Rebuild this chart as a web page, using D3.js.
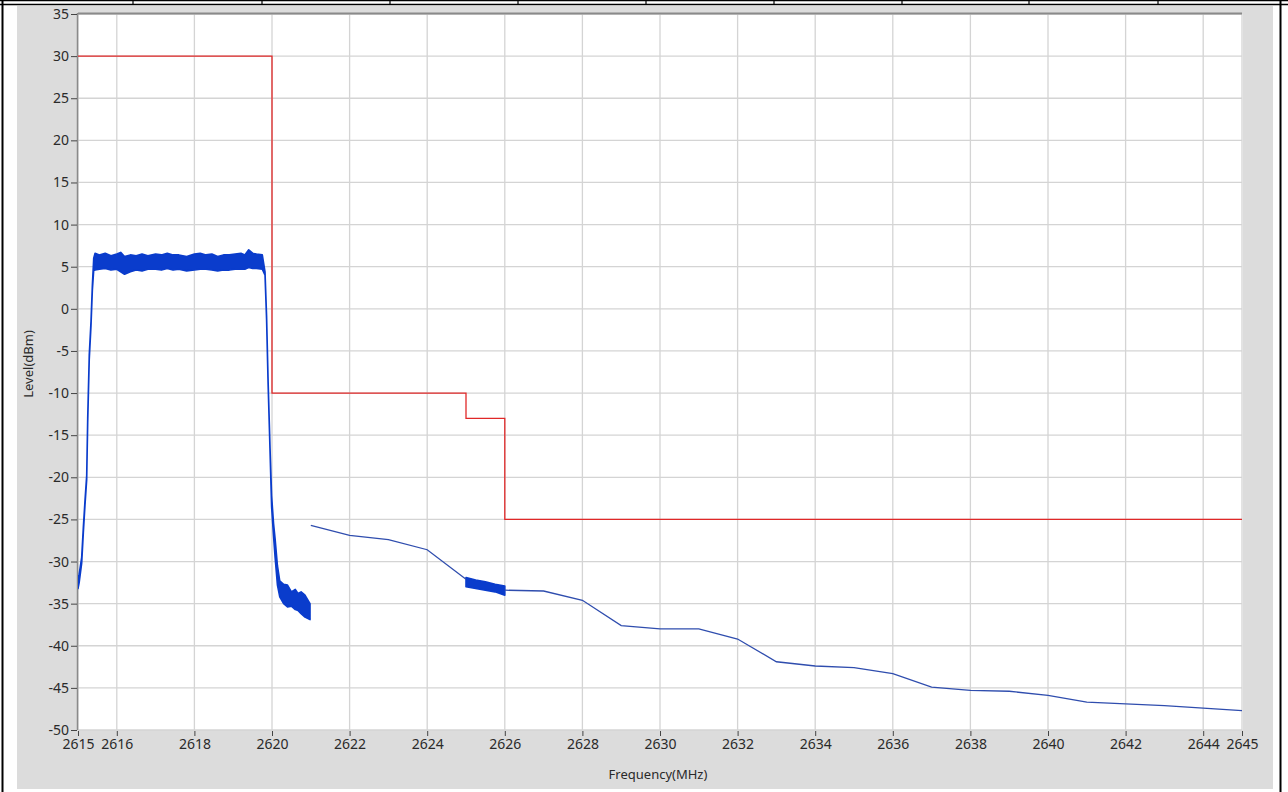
<!DOCTYPE html>
<html>
<head>
<meta charset="utf-8">
<script src="https://cdn.jsdelivr.net/npm/d3@7"></script>
<style>
  html, body { margin: 0; padding: 0; background: #ffffff; }
  svg { display: block; }
  .tick text { font-family: "Noto Sans", "DejaVu Sans", sans-serif; font-size: 14px; fill: #2a2a2a; }
</style>
</head>
<body>
<svg id="chart" width="1288" height="792"></svg>
<script>
// ---------- data ----------
const xTickValues = [2615, 2616, 2618, 2620, 2622, 2624, 2626, 2628, 2630, 2632, 2634, 2636, 2638, 2640, 2642, 2644, 2645];
const yTickValues = [-50, -45, -40, -35, -30, -25, -20, -15, -10, -5, 0, 5, 10, 15, 20, 25, 30, 35];

// limit mask (red)
const limitFreq  = [2615, 2620, 2620, 2625, 2625, 2626, 2626, 2645];
const limitLevel = [30, 30, -10, -10, -13, -13, -25, -25];

const band1Freq  = [2615.00, 2615.03, 2615.095, 2615.137, 2615.18, 2615.224, 2615.25, 2615.29, 2615.335, 2615.37, 2615.405, 2615.44,
                    2615.55, 2615.7, 2615.85, 2616.0, 2616.1, 2616.2, 2616.35, 2616.5, 2616.65, 2616.8, 2617.0, 2617.15, 2617.3, 2617.45, 2617.6,
                    2617.8, 2618.0, 2618.15, 2618.3, 2618.45, 2618.6, 2618.75, 2618.9, 2619.05, 2619.2, 2619.3, 2619.4, 2619.5, 2619.6, 2619.75,
                    2619.82, 2619.86, 2619.9, 2619.95, 2619.99, 2620.04, 2620.08, 2620.14, 2620.2, 2620.3, 2620.4, 2620.5, 2620.6, 2620.67, 2620.75, 2620.85, 2620.98];
const band1Upper = [-32.0, -31.5, -29.5, -26.0, -22.8, -19.8, -13.0, -5.5, -1.5, 2.8, 6.0, 6.6,
                    6.4, 6.6, 6.3, 6.5, 6.7, 6.2, 6.4, 6.3, 6.5, 6.3, 6.5, 6.4, 6.6, 6.4, 6.4,
                    6.2, 6.5, 6.6, 6.4, 6.5, 6.2, 6.4, 6.4, 6.5, 6.6, 6.4, 7.0, 6.6, 6.5, 6.4,
                    4.4, -0.8, -8.6, -16.6, -22.2, -25.5, -27.3, -30.5, -32.3, -32.7, -32.8, -33.6, -33.3, -33.8, -33.6, -34.0, -35.0];
const band1Lower = [-33.2, -32.5, -30.2, -26.6, -23.3, -20.3, -13.5, -6.0, -2.0, 2.2, 4.6, 4.6,
                    4.7, 4.8, 4.6, 4.7, 4.4, 4.1, 4.4, 4.6, 4.5, 4.7, 4.7, 4.6, 4.8, 4.6, 4.7,
                    4.5, 4.6, 4.7, 4.7, 4.6, 4.5, 4.6, 4.6, 4.7, 4.7, 4.7, 4.9, 4.8, 4.8, 4.7,
                    4.0, -1.2, -9.0, -17.0, -23.5, -27.0, -29.5, -32.8, -34.2, -35.0, -35.4, -35.3, -35.7, -35.8, -36.2, -36.6, -36.9];

// thin measured trace, 2621-2625
const trace1Freq  = [2621, 2622, 2623, 2624, 2625];
const trace1Level = [-25.7, -26.9, -27.4, -28.6, -32.1];

// dense band 2625-2626
const band2Freq  = [2625.0, 2625.25, 2625.5, 2625.75, 2626.0];
const band2Upper = [-31.9, -32.2, -32.4, -32.7, -32.9];
const band2Lower = [-33.0, -33.2, -33.4, -33.6, -34.0];

// thin measured trace, 2626-2645
const trace2Freq  = [2626, 2627, 2628, 2629, 2630, 2631, 2632, 2633, 2634, 2635, 2636, 2637, 2638, 2639, 2640, 2641, 2642, 2643, 2644, 2645];
const trace2Level = [-33.4, -33.5, -34.6, -37.6, -38.0, -38.0, -39.2, -41.9, -42.4, -42.6, -43.3, -44.9, -45.3, -45.4, -45.9, -46.7, -46.9, -47.1, -47.4, -47.7];

// ---------- layout ----------
const svg = d3.select("#chart");
const plot = { left: 78, right: 1242, top: 14, bottom: 730 };

const x = d3.scaleLinear().domain([2615, 2645]).range([plot.left, plot.right]);
const y = d3.scaleLinear().domain([-50, 35]).range([plot.bottom, plot.top]);

// outer frame
svg.append("rect").attr("x", 0).attr("y", 0).attr("width", 1288).attr("height", 792).attr("fill", "#fff");
svg.append("rect").attr("x", 17).attr("y", 6).attr("width", 1256).attr("height", 783).attr("fill", "#dcdcdc");
svg.append("line").attr("x1", 0).attr("x2", 1288).attr("y1", 0.5).attr("y2", 0.5).attr("stroke", "#000").attr("stroke-width", 1.5);
svg.append("line").attr("x1", 0).attr("x2", 1288).attr("y1", 4.5).attr("y2", 4.5).attr("stroke", "#000").attr("stroke-width", 1.5);
[133, 262, 390, 518, 646, 774, 902, 1029, 1158].forEach(px => {
  svg.append("line").attr("x1", px).attr("x2", px).attr("y1", 0).attr("y2", 5).attr("stroke", "#000").attr("stroke-width", 1.2);
});
svg.append("line").attr("x1", 2.5).attr("x2", 2.5).attr("y1", 0).attr("y2", 792).attr("stroke", "#000").attr("stroke-width", 2);
svg.append("line").attr("x1", 1280.5).attr("x2", 1280.5).attr("y1", 0).attr("y2", 792).attr("stroke", "#000").attr("stroke-width", 2);

// plot background
svg.append("rect").attr("x", plot.left).attr("y", plot.top)
  .attr("width", plot.right - plot.left + 1).attr("height", plot.bottom - plot.top).attr("fill", "#fff");

// grid
const grid = svg.append("g");
grid.selectAll("line.v").data(xTickValues).enter().append("line")
  .attr("x1", d => x(d)).attr("x2", d => x(d)).attr("y1", plot.top).attr("y2", plot.bottom)
  .attr("stroke", "#d4d4d4").attr("stroke-width", 1.3);
grid.selectAll("line.h").data(yTickValues).enter().append("line")
  .attr("x1", plot.left).attr("x2", plot.right).attr("y1", d => y(d)).attr("y2", d => y(d))
  .attr("stroke", "#d4d4d4").attr("stroke-width", 1.3);

// plot border lines
svg.append("line").attr("x1", plot.left).attr("x2", plot.right).attr("y1", plot.top - 0.5).attr("y2", plot.top - 0.5)
  .attr("stroke", "#8a8a8a").attr("stroke-width", 2);
svg.append("line").attr("x1", plot.left - 0.5).attr("x2", plot.left - 0.5).attr("y1", plot.top - 1).attr("y2", plot.bottom)
  .attr("stroke", "#8a8a8a").attr("stroke-width", 1.5);

// axes
const fmt = d => String(d);
const yAxis = d3.axisLeft(y).tickValues(yTickValues).tickSize(6).tickPadding(2).tickFormat(fmt);
const gy = svg.append("g").attr("transform", `translate(${plot.left - 1},0)`).call(yAxis);
gy.select(".domain").remove();
gy.selectAll(".tick line").attr("stroke", "#444");

const xAxis = d3.axisBottom(x).tickValues(xTickValues).tickSize(5).tickPadding(3).tickFormat(fmt);
const gx = svg.append("g").attr("transform", `translate(0,${plot.bottom + 1})`).call(xAxis);
gx.select(".domain").remove();
gx.selectAll(".tick line").attr("stroke", "#444");

// axis titles
svg.append("text").attr("x", (plot.left + plot.right) / 2 - 2).attr("y", 779)
  .attr("text-anchor", "middle").attr("font-family", "Noto Sans, DejaVu Sans, sans-serif")
  .attr("font-size", 13).attr("fill", "#2a2a2a").text("Frequency(MHz)");
svg.append("text").attr("transform", `translate(33,364) rotate(-90)`)
  .attr("text-anchor", "middle").attr("font-family", "Noto Sans, DejaVu Sans, sans-serif")
  .attr("font-size", 13).attr("fill", "#2a2a2a").text("Level(dBm)");

// clip
svg.append("clipPath").attr("id", "clip").append("rect")
  .attr("x", plot.left).attr("y", plot.top).attr("width", plot.right - plot.left + 1).attr("height", plot.bottom - plot.top);
const marks = svg.append("g").attr("clip-path", "url(#clip)");

// limit line
const limitData = limitFreq.map((f, i) => [f, limitLevel[i]]);
marks.append("path").datum(limitData)
  .attr("d", d3.line().x(d => x(d[0])).y(d => y(d[1])))
  .attr("fill", "none").attr("stroke", "#e02828").attr("stroke-width", 1.3);

// dense bands
const bandColor = "#0a3ccc";
function drawBand(freq, up, lo) {
  const data = freq.map((f, i) => ({ f, u: up[i], l: lo[i] }));
  marks.append("path").datum(data)
    .attr("d", d3.area().x(d => x(d.f)).y0(d => y(d.l)).y1(d => y(d.u)))
    .attr("fill", bandColor).attr("stroke", bandColor).attr("stroke-width", 1.6).attr("stroke-linejoin", "round");
}
drawBand(band1Freq, band1Upper, band1Lower);
drawBand(band2Freq, band2Upper, band2Lower);

// thin traces
const traceColor = "#2f4dae";
function drawTrace(freq, lev) {
  const data = freq.map((f, i) => [f, lev[i]]);
  marks.append("path").datum(data)
    .attr("d", d3.line().x(d => x(d[0])).y(d => y(d[1])))
    .attr("fill", "none").attr("stroke", traceColor).attr("stroke-width", 1.3);
}
drawTrace(trace1Freq, trace1Level);
drawTrace(trace2Freq, trace2Level);
</script>
</body>
</html>
